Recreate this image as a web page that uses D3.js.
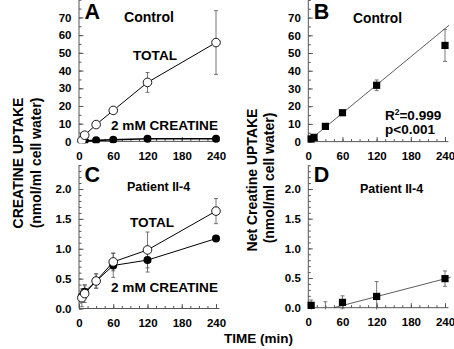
<!DOCTYPE html>
<html><head><meta charset="utf-8">
<script src="https://cdn.jsdelivr.net/npm/d3@7"></script>
<style>
body{margin:0;background:#fff}
svg{display:block}
text{font-family:"Liberation Sans",Arial,Helvetica,sans-serif;font-weight:bold;fill:#000}
</style>
</head><body>
<svg id="chart" width="454" height="349"></svg>
<script>
// Sampling times (min)
const times = [5, 10, 30, 60, 120, 240];
const timesD = [5, 30, 60, 120, 240];
const xTicks = [0, 60, 120, 180, 240];

// Panel A – control fibroblasts
const ctrlTotal = [0.5, 3.5, 9.5, 17.5, 33.3, 55.8];
const ctrlTotalErr = [0.3, 0.5, 0.8, 1.0, 5.6, 18.0];
const ctrlCreatine = [0.2, 0.3, 0.6, 0.9, 1.5, 1.5];
const ctrlCreatineErr = [0.1, 0.1, 0.2, 0.2, 0.3, 0.3];

// Panel B – control, net uptake with linear fit
const ctrlNet = [1.5, 2.4, 8.6, 16.3, 31.8, 54.3];
const ctrlNetErr = [0.3, 0.3, 0.5, 0.6, 3.0, 9.0];
const ctrlFit = {slope: 0.265, intercept: 0.2, from: 0, to: 247};

// Panel C – patient II-4
const patTotal = [0.18, 0.25, 0.46, 0.78, 0.98, 1.63];
const patTotalErr = [0.15, 0.15, 0.12, 0.15, 0.30, 0.21];
const patCreatine = [0.20, 0.28, 0.46, 0.72, 0.81, 1.17];
const patCreatineErr = [0.08, 0.10, 0.12, 0.20, 0.20, 0.04];

// Panel D – patient II-4, net uptake with linear fit
const patNet = [0.04, -0.10, 0.09, 0.19, 0.49];
const patNetErr = [0.09, 0.20, 0.11, 0.25, 0.13];
const patFit = {slope: 0.0025, intercept: -0.1125, from: 45, to: 250};

const ticksTop = [0, 10, 20, 30, 40, 50, 60, 70];
const ticksBottom = [0, 0.5, 1.0, 1.5, 2.0];

const svg = d3.select("#chart");

function panel(cfg) {
  const x = d3.scaleLinear().domain([0, 240]).range(cfg.xr);
  const y = d3.scaleLinear().domain(cfg.yd).range(cfg.yr);
  const g = svg.append("g");
  const clipId = "clip" + cfg.letter;
  svg.append("clipPath").attr("id", clipId).append("rect")
    .attr("x", x(0) - 6).attr("y", 0).attr("width", 160)
    .attr("height", y(0) + 1.8);
  const axisCol = "#555";

  // minor ticks
  g.append("g").attr("transform", `translate(${x(0)},0)`)
    .call(d3.axisLeft(y).tickValues(d3.range(cfg.yd[0], cfg.yd[1] + 1e-9, cfg.minor)).tickSizeInner(-2.5).tickSizeOuter(0).tickFormat(""))
    .call(s => { s.select(".domain").remove(); s.selectAll("line").attr("stroke", axisCol); });
  g.append("g").attr("transform", `translate(0,${y(0)})`)
    .call(d3.axisBottom(x).tickValues(d3.range(0, 241, 15)).tickSizeInner(-2.5).tickSizeOuter(0).tickFormat(""))
    .call(s => { s.select(".domain").remove(); s.selectAll("line").attr("stroke", axisCol); });

  // major ticks + labels
  g.append("g").attr("transform", `translate(${x(0)},0)`)
    .call(d3.axisLeft(y).tickValues(cfg.yt).tickSizeInner(-4.5).tickSizeOuter(0).tickPadding(7.5).tickFormat(cfg.fmt))
    .call(s => {
      s.select(".domain").remove();
      s.selectAll("line").attr("stroke", axisCol);
      s.selectAll("text").attr("font-size", 11.5).attr("font-family", null).attr("fill", "#000");
    });
  g.append("g").attr("transform", `translate(0,${y(0)})`)
    .call(d3.axisBottom(x).tickValues(xTicks).tickSizeInner(-4.5).tickSizeOuter(0).tickPadding(10))
    .call(s => {
      s.select(".domain").remove();
      s.selectAll("line").attr("stroke", axisCol);
      s.selectAll("text").attr("font-size", 11.5).attr("font-family", null).attr("fill", "#000");
    });

  // axis lines
  g.append("line").attr("x1", x(0)).attr("x2", x(0)).attr("y1", y(0)).attr("y2", y(cfg.yd[1]))
    .attr("stroke", axisCol).attr("stroke-width", 1);
  g.append("line").attr("x1", x(0)).attr("x2", x(246)).attr("y1", y(0)).attr("y2", y(0))
    .attr("stroke", axisCol).attr("stroke-width", 1);

  const plot = g.append("g").attr("clip-path", `url(#${clipId})`);

  // fitted line
  if (cfg.fit) {
    const f = cfg.fit;
    plot.append("line")
      .attr("x1", x(f.from)).attr("y1", y(f.intercept + f.slope * f.from))
      .attr("x2", x(f.to)).attr("y2", y(f.intercept + f.slope * f.to))
      .attr("stroke", "#333").attr("stroke-width", 0.8);
  }

  const line = d3.line().x(d => x(d.t)).y(d => y(d.v));
  cfg.series.forEach(s => {
    const pts = s.t.map((t, i) => ({t, v: s.v[i], e: s.e[i]}));
    if (s.connect) {
      plot.append("path").datum(pts).attr("d", line)
        .attr("fill", "none").attr("stroke", "#000").attr("stroke-width", s.lw || 1);
    }
    s.pts = pts;
  });
  cfg.series.forEach(s => {
    const eb = plot.append("g").attr("stroke", "#555").attr("stroke-width", 0.8);
    s.pts.forEach(p => {
      const y1 = y(p.v + p.e), y2 = y(p.v - p.e), cx = x(p.t);
      eb.append("line").attr("x1", cx).attr("x2", cx).attr("y1", y1).attr("y2", y2);
      eb.append("line").attr("x1", cx - 2).attr("x2", cx + 2).attr("y1", y1).attr("y2", y1);
      eb.append("line").attr("x1", cx - 2).attr("x2", cx + 2).attr("y1", y2).attr("y2", y2);
    });
  });
  cfg.series.forEach(s => {
    s.pts.forEach(p => {
      if (s.shape === "square") {
        plot.append("rect").attr("x", x(p.t) - 3.6).attr("y", y(p.v) - 3.6)
          .attr("width", 7.2).attr("height", 7.2).attr("fill", "#000");
      } else if (s.shape === "open") {
        plot.append("circle").attr("cx", x(p.t)).attr("cy", y(p.v)).attr("r", 4.3)
          .attr("fill", "#fff").attr("stroke", "#000").attr("stroke-width", 0.9);
      } else {
        plot.append("circle").attr("cx", x(p.t)).attr("cy", y(p.v)).attr("r", 4)
          .attr("fill", "#000");
      }
    });
  });

  // panel letter
  g.append("text").attr("x", cfg.xr[0] + 5.5).attr("y", cfg.letterY)
    .attr("font-size", 21.5).text(cfg.letter);
  // annotations
  cfg.notes.forEach(n => {
    const t = g.append("text").attr("x", n.x).attr("y", n.y).attr("font-size", n.fs);
    if (n.w) t.attr("textLength", n.w).attr("lengthAdjust", "spacingAndGlyphs");
    if (n.sup) {
      t.append("tspan").text(n.text[0]);
      t.append("tspan").attr("font-size", 8.5).attr("dy", -5.5).text(n.sup);
      t.append("tspan").attr("dy", 5.5).text(n.text[1]);
    } else {
      t.text(n.text);
    }
  });
}

const fmtInt = d3.format("d"), fmt1 = d3.format(".1f");

panel({
  letter: "A", letterY: 18.5, xr: [79, 216], yd: [0, 80], yr: [141.4, -0.3],
  yt: ticksTop, minor: 5, fmt: fmtInt,
  series: [
    {t: times, v: ctrlCreatine, e: ctrlCreatineErr, shape: "filled", connect: true, lw: 1.6},
    {t: times, v: ctrlTotal, e: ctrlTotalErr, shape: "open", connect: true}
  ],
  notes: [
    {x: 124, y: 22, fs: 14, w: 50, text: "Control"},
    {x: 133, y: 60, fs: 13, w: 44, text: "TOTAL"},
    {x: 111, y: 130, fs: 13, w: 107, text: "2 mM CREATINE"}
  ]
});

panel({
  letter: "B", letterY: 18.5, xr: [308.3, 445], yd: [0, 80], yr: [141.6, -0.1],
  yt: ticksTop, minor: 5, fmt: fmtInt, fit: ctrlFit,
  series: [
    {t: times, v: ctrlNet, e: ctrlNetErr, shape: "square", connect: false}
  ],
  notes: [
    {x: 353, y: 23, fs: 14, w: 49, text: "Control"},
    {x: 385, y: 120, fs: 13.5, text: ["R", "=0.999"], sup: "2"},
    {x: 385, y: 134, fs: 13.5, text: "p<0.001"}
  ]
});

panel({
  letter: "C", letterY: 181.5, xr: [79, 216], yd: [0, 2.4], yr: [308.5, 165.1],
  yt: ticksBottom, minor: 0.1, fmt: fmt1,
  series: [
    {t: times, v: patCreatine, e: patCreatineErr, shape: "filled", connect: true},
    {t: times, v: patTotal, e: patTotalErr, shape: "open", connect: true}
  ],
  notes: [
    {x: 127, y: 191, fs: 12.5, text: "Patient II-4"},
    {x: 130, y: 226.5, fs: 13, w: 44, text: "TOTAL"},
    {x: 111, y: 291.5, fs: 13, w: 107, text: "2 mM CREATINE"}
  ]
});

panel({
  letter: "D", letterY: 181.5, xr: [308.3, 445], yd: [0, 2.4], yr: [307.7, 165.3],
  yt: ticksBottom, minor: 0.1, fmt: fmt1, fit: patFit,
  series: [
    {t: timesD, v: patNet, e: patNetErr, shape: "square", connect: false}
  ],
  notes: [
    {x: 360, y: 193, fs: 12.5, text: "Patient II-4"}
  ]
});

// axis titles
function vTitle(cx, cy, txt) {
  svg.append("text").attr("transform", `translate(${cx},${cy}) rotate(-90)`)
    .attr("text-anchor", "middle").attr("font-size", 14).text(txt);
}
vTitle(23, 163, "CREATINE UPTAKE");
vTitle(41, 163, "(nmol/ml cell water)");
vTitle(257, 180, "Net Creatine UPTAKE");
vTitle(274, 178, "(nmol/ml cell water)");

svg.append("text").attr("x", 224).attr("y", 343).attr("font-size", 13.5).text("TIME (min)");
</script>
</body></html>
